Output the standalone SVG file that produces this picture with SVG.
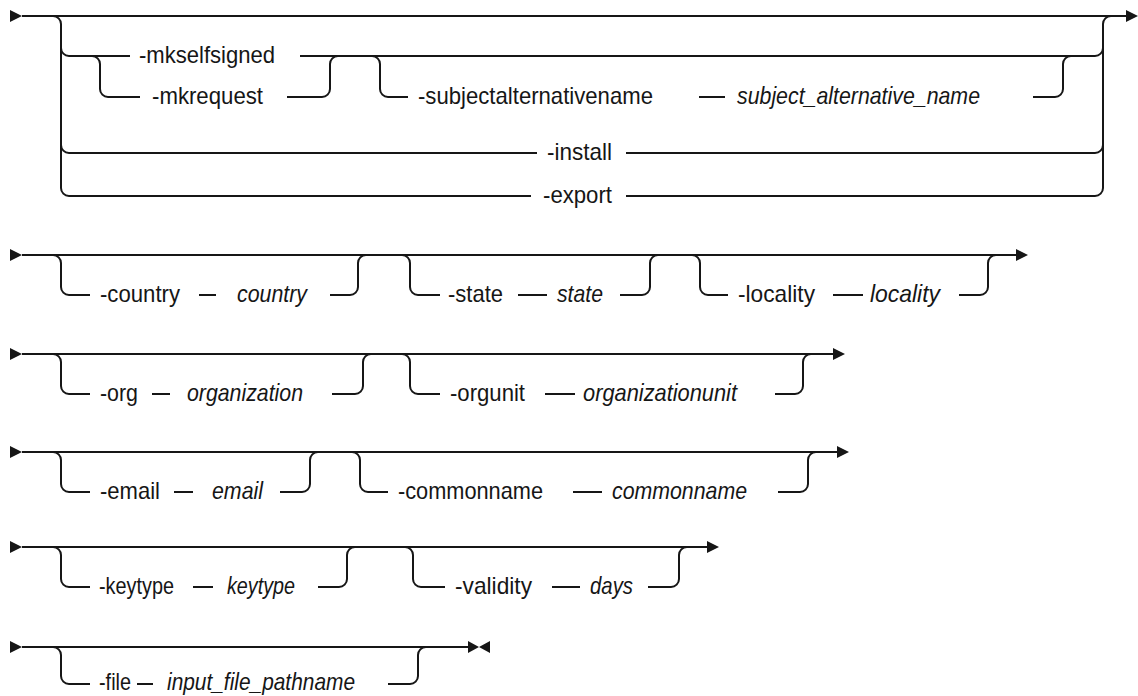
<svg xmlns="http://www.w3.org/2000/svg" width="1138" height="696" viewBox="0 0 1138 696">
<style>
.c{fill:none;stroke:#161616;stroke-width:2}
.ah{fill:#161616;stroke:none}
text{font-family:"Liberation Sans",Arial,sans-serif;font-size:24px;fill:#161616;text-anchor:middle}
text.v{font-style:italic}
</style>
<rect width="1138" height="696" fill="#fff"/>
<defs>
<path id="start" class="ah" d="M0,-6 L12,0 L0,6 Z"/>
</defs>
<g id="connectors">
<!-- row 1 -->
<g class="c">
<path d="M22,16 H1126"/>
<path d="M53,16 a8,8 0 0 1 8,8 V188 a8,8 0 0 0 8,8 H531"/>
<path d="M61,48 a8,8 0 0 0 8,8 H130"/>
<path d="M61,145 a8,8 0 0 0 8,8 H537"/>
<path d="M300,56 H1095 a8,8 0 0 0 8,-8"/>
<path d="M92,56 a8,8 0 0 1 8,8 V89 a8,8 0 0 0 8,8 H140"/>
<path d="M287,97 H322 a8,8 0 0 0 8,-8 V64 a8,8 0 0 1 8,-8"/>
<path d="M372,56 a8,8 0 0 1 8,8 V89 a8,8 0 0 0 8,8 H408"/>
<path d="M699,97 H725"/>
<path d="M1033,97 H1055 a8,8 0 0 0 8,-8 V64 a8,8 0 0 1 8,-8"/>
<path d="M626,153 H1095 a8,8 0 0 0 8,-8"/>
<path d="M626,196 H1095 a8,8 0 0 0 8,-8 V24 a8,8 0 0 1 8,-8"/>
</g>
<use href="#start" x="10" y="16"/>
<path class="ah" d="M1126,10 L1138,16 L1126,22 Z"/>
<!-- row 2 -->
<g class="c">
<path d="M22,255 H1016"/>
<path d="M53,255 a8,8 0 0 1 8,8 V287 a8,8 0 0 0 8,8 H90"/>
<path d="M199,295 H216"/>
<path d="M330,295 H350 a8,8 0 0 0 8,-8 V263 a8,8 0 0 1 8,-8"/>
<path d="M402,255 a8,8 0 0 1 8,8 V287 a8,8 0 0 0 8,8 H440"/>
<path d="M518,295 H547"/>
<path d="M620,295 H642 a8,8 0 0 0 8,-8 V263 a8,8 0 0 1 8,-8"/>
<path d="M692,255 a8,8 0 0 1 8,8 V287 a8,8 0 0 0 8,8 H728"/>
<path d="M833,295 H863"/>
<path d="M959,295 H980 a8,8 0 0 0 8,-8 V263 a8,8 0 0 1 8,-8"/>
</g>
<use href="#start" x="10" y="255"/>
<path class="ah" d="M1016,249 L1028,255 L1016,261 Z"/>
<!-- row 3 -->
<g class="c">
<path d="M22,354 H833"/>
<path d="M53,354 a8,8 0 0 1 8,8 V386 a8,8 0 0 0 8,8 H90"/>
<path d="M152,394 H170"/>
<path d="M332,394 H355 a8,8 0 0 0 8,-8 V362 a8,8 0 0 1 8,-8"/>
<path d="M402,354 a8,8 0 0 1 8,8 V386 a8,8 0 0 0 8,8 H440"/>
<path d="M545,394 H575"/>
<path d="M775,394 H795 a8,8 0 0 0 8,-8 V362 a8,8 0 0 1 8,-8"/>
</g>
<use href="#start" x="10" y="354"/>
<path class="ah" d="M833,348 L845,354 L833,360 Z"/>
<!-- row 4 -->
<g class="c">
<path d="M22,452 H837"/>
<path d="M53,452 a8,8 0 0 1 8,8 V484 a8,8 0 0 0 8,8 H90"/>
<path d="M174,492 H193"/>
<path d="M280,492 H302 a8,8 0 0 0 8,-8 V460 a8,8 0 0 1 8,-8"/>
<path d="M352,452 a8,8 0 0 1 8,8 V484 a8,8 0 0 0 8,8 H388"/>
<path d="M573,492 H602"/>
<path d="M778,492 H800 a8,8 0 0 0 8,-8 V460 a8,8 0 0 1 8,-8"/>
</g>
<use href="#start" x="10" y="452"/>
<path class="ah" d="M837,446 L849,452 L837,458 Z"/>
<!-- row 5 -->
<g class="c">
<path d="M22,547 H707"/>
<path d="M53,547 a8,8 0 0 1 8,8 V579 a8,8 0 0 0 8,8 H90"/>
<path d="M193,587 H213"/>
<path d="M318,587 H339 a8,8 0 0 0 8,-8 V555 a8,8 0 0 1 8,-8"/>
<path d="M405,547 a8,8 0 0 1 8,8 V579 a8,8 0 0 0 8,8 H445"/>
<path d="M552,587 H580"/>
<path d="M648,587 H671 a8,8 0 0 0 8,-8 V555 a8,8 0 0 1 8,-8"/>
</g>
<use href="#start" x="10" y="547"/>
<path class="ah" d="M707,541 L719,547 L707,553 Z"/>
<!-- row 6 -->
<g class="c">
<path d="M22,647 H468"/>
<path d="M53,647 a8,8 0 0 1 8,8 V676 a8,8 0 0 0 8,8 H90"/>
<path d="M137,684 H153"/>
<path d="M388,684 H410 a8,8 0 0 0 8,-8 V655 a8,8 0 0 1 8,-8"/>
</g>
<use href="#start" x="10" y="647"/>
<path class="ah" d="M468,641 L479,647 L468,653 Z M490,641 L479,647 L490,653 Z"/>
</g>
<g id="n-mkselfsigned"><text x="207" y="63" textLength="136" lengthAdjust="spacingAndGlyphs">-mkselfsigned</text></g>
<g id="n-mkrequest"><text x="207.5" y="104" textLength="111" lengthAdjust="spacingAndGlyphs">-mkrequest</text></g>
<g id="n-subjectalternativename"><text x="535.5" y="104" textLength="235" lengthAdjust="spacingAndGlyphs">-subjectalternativename</text></g>
<g id="n-subject_alternative_name"><text class="v" x="858.5" y="104" textLength="243" lengthAdjust="spacingAndGlyphs">subject_alternative_name</text></g>
<g id="n-install"><text x="579.5" y="160" textLength="65" lengthAdjust="spacingAndGlyphs">-install</text></g>
<g id="n-export"><text x="577.5" y="203" textLength="69" lengthAdjust="spacingAndGlyphs">-export</text></g>
<g id="n-country-opt"><text x="140" y="302" textLength="80" lengthAdjust="spacingAndGlyphs">-country</text></g>
<g id="n-country-val"><text class="v" x="272" y="302" textLength="70" lengthAdjust="spacingAndGlyphs">country</text></g>
<g id="n-state-opt"><text x="475.5" y="302" textLength="55" lengthAdjust="spacingAndGlyphs">-state</text></g>
<g id="n-state-val"><text class="v" x="580" y="302" textLength="46" lengthAdjust="spacingAndGlyphs">state</text></g>
<g id="n-locality-opt"><text x="776.5" y="302" textLength="77" lengthAdjust="spacingAndGlyphs">-locality</text></g>
<g id="n-locality-val"><text class="v" x="905" y="302" textLength="70" lengthAdjust="spacingAndGlyphs">locality</text></g>
<g id="n-org-opt"><text x="119" y="401" textLength="38" lengthAdjust="spacingAndGlyphs">-org</text></g>
<g id="n-org-val"><text class="v" x="245" y="401" textLength="116" lengthAdjust="spacingAndGlyphs">organization</text></g>
<g id="n-orgunit-opt"><text x="487.5" y="401" textLength="75" lengthAdjust="spacingAndGlyphs">-orgunit</text></g>
<g id="n-orgunit-val"><text class="v" x="660" y="401" textLength="154" lengthAdjust="spacingAndGlyphs">organizationunit</text></g>
<g id="n-email-opt"><text x="130" y="499" textLength="60" lengthAdjust="spacingAndGlyphs">-email</text></g>
<g id="n-email-val"><text class="v" x="237.5" y="499" textLength="51" lengthAdjust="spacingAndGlyphs">email</text></g>
<g id="n-commonname-opt"><text x="470.5" y="499" textLength="145" lengthAdjust="spacingAndGlyphs">-commonname</text></g>
<g id="n-commonname-val"><text class="v" x="679.5" y="499" textLength="135" lengthAdjust="spacingAndGlyphs">commonname</text></g>
<g id="n-keytype-opt"><text x="136.5" y="594" textLength="75" lengthAdjust="spacingAndGlyphs">-keytype</text></g>
<g id="n-keytype-val"><text class="v" x="261" y="594" textLength="68" lengthAdjust="spacingAndGlyphs">keytype</text></g>
<g id="n-validity-opt"><text x="493.5" y="594" textLength="77" lengthAdjust="spacingAndGlyphs">-validity</text></g>
<g id="n-validity-val"><text class="v" x="611.5" y="594" textLength="43" lengthAdjust="spacingAndGlyphs">days</text></g>
<g id="n-file-opt"><text x="115" y="690" textLength="32" lengthAdjust="spacingAndGlyphs">-file</text></g>
<g id="n-file-val"><text class="v" x="261" y="690" textLength="188" lengthAdjust="spacingAndGlyphs">input_file_pathname</text></g>
</svg>
